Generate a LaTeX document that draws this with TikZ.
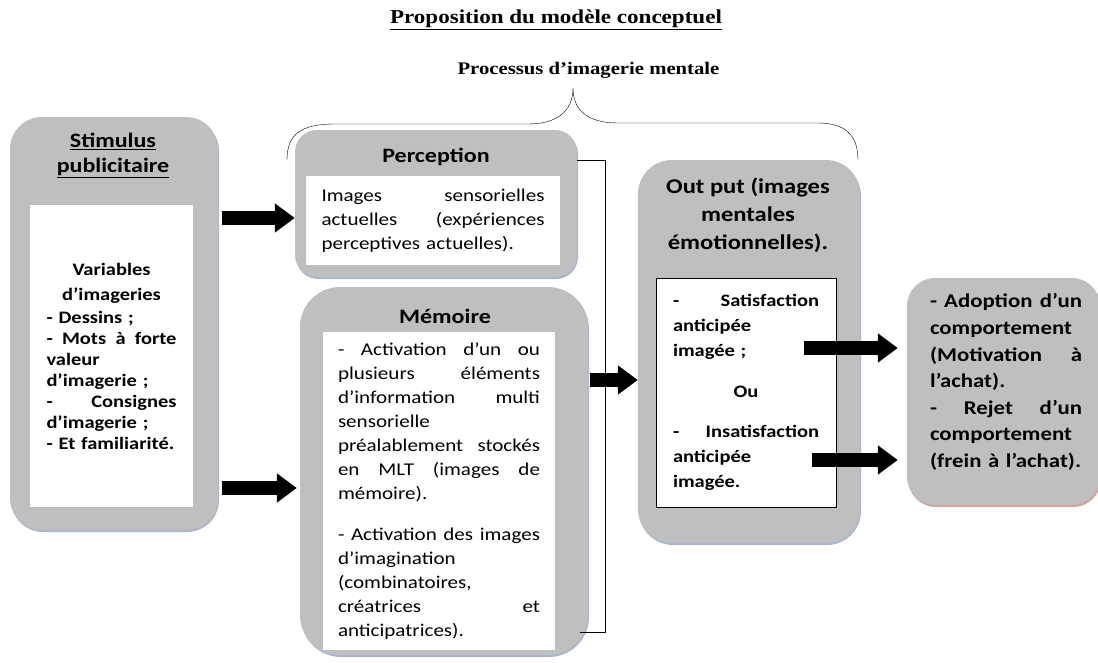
\documentclass[tikz,border=0pt]{standalone}
\usepackage{fontspec}
\setmainfont{Carlito}[FakeStretch=1.17]
\newfontfamily\seriffont{Liberation Serif}[FakeStretch=1.17]
\usetikzlibrary{arrows.meta,shadows}
\definecolor{boxgray}{RGB}{191,191,191}
\definecolor{shadowblue}{RGB}{150,164,190}
\definecolor{shadowred}{RGB}{196,140,140}
\newcommand{\jline}[1]{\makebox[\hsize][s]{\spaceskip=.3333em plus 1fil\relax #1}}% justified line

\begin{document}
\begin{tikzpicture}[x=1pt,y=-1pt,
    graybox/.style={fill=boxgray, rounded corners=#1, inner sep=0pt},
    graybox/.default=25pt,
    boxshadow/.style={drop shadow={shadow xshift=1pt, shadow yshift=-2pt, fill=#1, opacity=.8}},
    boxshadow/.default=shadowblue,
    whitebox/.style={fill=white, inner ysep=0pt, align=left},
    boxtitle/.style={inner sep=0pt, align=center, font=\fontsize{20.5}{25}\selectfont\bfseries},
    bodytext/.style={font=\fontsize{18}{24}\selectfont},
    boldtext/.style={font=\fontsize{17.5}{#1}\selectfont\bfseries},
    blockarrow/.style={line width=14pt, -{Triangle[length=20pt, width=28pt]}}]
    \useasboundingbox (0,0) rectangle (1098,662);

    % titles
    \node[inner sep=0pt, font=\seriffont\fontsize{19.7}{24}\selectfont\bfseries] (titre) at (556,20)
        {\underline{Proposition du modèle conceptuel}};
    \node[inner sep=0pt, font=\seriffont\fontsize{17.7}{20}\selectfont\bfseries] (processus) at (588.5,70)
        {Processus d’imagerie mentale};
    \draw[thin] (287,160) .. controls (287,135) and (300,124) .. (335,124)
        -- (528,124) .. controls (556,124) and (573,112) .. (573,88)
        .. controls (573,112) and (590,123) .. (618,123)
        -- (818,123) .. controls (846,123) and (858,136) .. (858,160);% brace

    % gray boxes
    \node[graybox=32pt, boxshadow, minimum width=208pt, minimum height=413pt] (stim) at (114,323.5) {};
    \node[graybox=22pt, boxshadow, minimum width=282pt, minimum height=147pt] (perc) at (436,203.5) {};
    \node[graybox=40pt, boxshadow, minimum width=288pt, minimum height=368pt] (memo) at (444,471) {};
    \node[graybox=34pt, boxshadow, minimum width=222pt, minimum height=383pt] (sortie) at (749,351.5) {};
    \node[graybox=28pt, boxshadow=shadowred, minimum width=193pt, minimum height=227pt] (reponse) at (1003.5,391.5) {};

    \node[boxtitle] (stimtitre) at (113,155.5) {\underline{Stimulus}\\\underline{publicitaire}};
    \node[boxtitle] (perctitre) at (436,157) {Perception};
    \node[boxtitle] (memotitre) at (445,316) {Mémoire};
    \node[boxtitle, font=\fontsize{21}{28}\selectfont\bfseries] (sortietitre) at (748,215)
        {Out put (images\\mentales\\émotionnelles).};

    % white boxes with their texts
    \node[whitebox, text width=130pt, inner xsep=16.5pt, minimum height=302pt, boldtext=21] (stimcorps) at (111.5,356)
        {\makebox[\hsize]{Variables}\\[4pt]
         \makebox[\hsize]{d’imageries}\\[2pt]
         - Dessins ;\\
         \jline{- Mots à forte}\\
         valeur\\
         d’imagerie ;\\
         \jline{- Consignes}\\
         d’imagerie ;\\
         - Et familiarité.};
    \node[whitebox, text width=223pt, inner xsep=15.5pt, minimum height=89pt, bodytext] (perccorps) at (433,220.5)
        {\jline{Images sensorielles}\\
         \jline{actuelles (expériences}\\
         perceptives actuelles).};
    \node[whitebox, text width=202pt, inner xsep=15pt, minimum height=318pt, bodytext] (memocorps) at (439,491)
        {\jline{- Activation d’un ou}\\
         \jline{plusieurs éléments}\\
         \jline{d’information multi}\\
         sensorielle\\
         \jline{préalablement stockés}\\
         \jline{en MLT (images de}\\
         mémoire).\\[17pt]
         \jline{- Activation des images}\\
         d’imagination\\
         (combinatoires,\\
         \jline{créatrices et}\\
         anticipatrices).};
    \node[whitebox, draw=black, thin, text width=146pt, inner xsep=17pt, minimum height=229pt, boldtext=25] (sortiecorps) at (746,392.5)
        {\jline{- Satisfaction}\\
         anticipée\\
         imagée ;\\[16pt]
         \makebox[\hsize]{Ou}\\[15pt]
         \jline{- Insatisfaction}\\
         anticipée\\
         imagée.};
    \node[inner sep=0pt, text width=152pt, align=left, font=\fontsize{19.5}{26.6}\selectfont\bfseries] (reponsetexte) at (1006,382)
        {\jline{- Adoption d’un}\\
         comportement\\
         \jline{(Motivation à}\\
         l’achat).\\
         \jline{- Rejet d’un}\\
         comportement\\
         (frein à l’achat).};

    % bracket round perception and memoire
    \coordinate (crochethaut) at (605,160);
    \coordinate (crochetbas) at (605,632);
    \draw[thin] (perc.east |- crochethaut) -- (crochethaut) -- (crochetbas) -- ++(-25,0);

    % block arrows
    \coordinate (sat) at (804,348);
    \coordinate (insat) at (812,460);
    \draw[blockarrow, shorten <=4pt] (stim.east |- 0,218) -- (perc.west |- 0,218);
    \draw[blockarrow, shorten <=4pt, shorten >=3pt] (stim.east |- 0,488) -- (memo.west |- 0,488);
    \draw[blockarrow, shorten <=2pt] (memo.east |- 0,380) -- (sortie.west |- 0,380);
    \foreach \c in {sat,insat}
      \draw[blockarrow, shorten >=9pt] (\c) -- (reponse.west |- \c);
\end{tikzpicture}
\end{document}
